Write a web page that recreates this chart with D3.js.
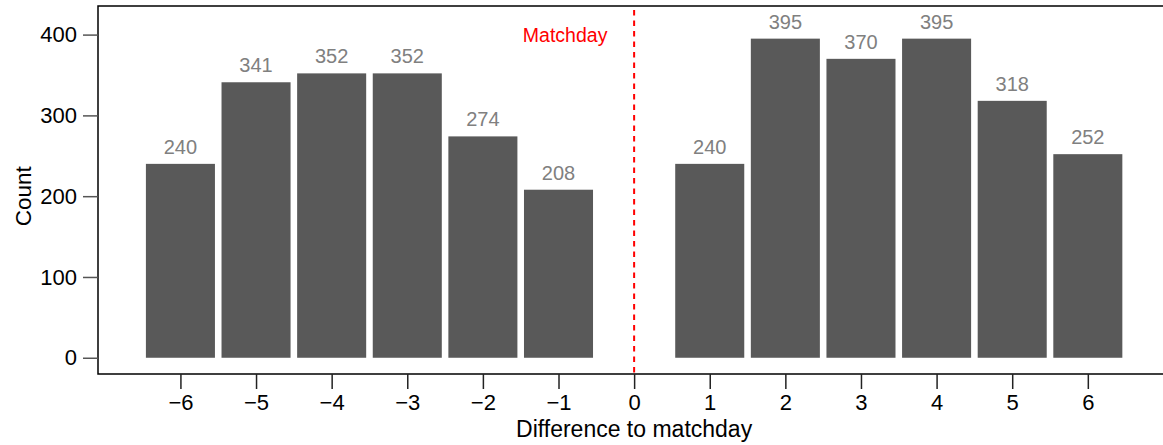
<!DOCTYPE html>
<html>
<head>
<meta charset="utf-8">
<script src="https://cdn.jsdelivr.net/npm/d3@7"></script>
<style>
  body { margin: 0; background: #fff; }
  svg { display: block; font-family: "Liberation Sans", Arial, sans-serif; }
</style>
</head>
<body>
<div id="chart"></div>
<script>
/* Counts by difference to matchday */

const days = [-6, -5, -4, -3, -2, -1, 1, 2, 3, 4, 5, 6];
const counts = [240, 341, 352, 352, 274, 208, 240, 395, 370, 395, 318, 252];
const xTicks = [-6, -5, -4, -3, -2, -1, 0, 1, 2, 3, 4, 5, 6];
const yTicks = [0, 100, 200, 300, 400];

const width = 1163,
      height = 445,
      margin = ({ top: 6, right: 0, bottom: 70, left: 98 });

let svg = d3.select("#chart")
    .append("svg")
    .attr("width", width)
    .attr("height", height);

//x scale - right edge runs off the picture
let x = d3.scaleLinear()
    .domain([-7.09, 7.1])
    .range([margin.left, margin.left + 1073]);

let y = d3.scaleLinear()
    .domain([-20.1, 435.4])
    .range([height - margin.bottom - 1, margin.top]);

const step = x(1) - x(0);
const barW = step * 0.913;

//frame lines (left, top, bottom)
svg.append("path")
    .attr("d", `M${width + 10},${y(435.4)}H${x(-7.09)}V${y(-20.1)}H${width + 10}`)
    .attr("fill", "none")
    .attr("stroke", "#000")
    .attr("stroke-width", 1.5);

//y axis
let yAxis = svg.append("g")
    .attr("transform", `translate(${x(-7.09)},0)`)
    .call(d3.axisLeft(y).tickValues(yTicks).tickSize(15).tickPadding(6));
yAxis.select(".domain").remove();
yAxis.selectAll("line").attr("stroke", "#555").attr("stroke-width", 1.5);
yAxis.selectAll("text").attr("font-size", 22).attr("fill", "#000")
    .attr("font-family", "Liberation Sans, Arial, sans-serif");

//x axis
let xAxis = svg.append("g")
    .attr("transform", `translate(0,${y(-20.1)})`)
    .call(d3.axisBottom(x).tickValues(xTicks).tickSize(15).tickPadding(5)
        .tickFormat(d => d < 0 ? "\u2212" + Math.abs(d) : d));
xAxis.select(".domain").remove();
xAxis.selectAll("line").attr("stroke", "#222").attr("stroke-width", 1.5);
xAxis.selectAll("text").attr("font-size", 22).attr("fill", "#000")
    .attr("font-family", "Liberation Sans, Arial, sans-serif");

//bars
let data = days.map((d, i) => ({ day: d, num: counts[i] }));

let bar = svg.selectAll(".bar")
    .data(data)
    .join("g")
    .attr("class", "bar");

bar.append("rect")
    .attr("fill", "#595959")
    .attr("x", d => x(d.day) - barW / 2)
    .attr("width", barW)
    .attr("y", d => y(d.num))
    .attr("height", d => y(0) - y(d.num));

bar.append("text")
    .text(d => d.num)
    .attr("x", d => x(d.day))
    .attr("y", d => y(d.num) - 10)
    .attr("text-anchor", "middle")
    .attr("font-size", 20)
    .attr("fill", "#808080");

//matchday line
svg.append("line")
    .attr("x1", x(0)).attr("x2", x(0))
    .attr("y1", margin.top + 4)
    .attr("y2", y(-20.1))
    .attr("stroke", "#ff0000")
    .attr("stroke-width", 2)
    .attr("stroke-dasharray", "5.5,5");

svg.append("text")
    .text("Matchday")
    .attr("x", x(0) - 69)
    .attr("y", 42)
    .attr("text-anchor", "middle")
    .attr("font-size", 19.5)
    .attr("fill", "#ff0000");

//axis titles
svg.append("text")
    .text("Difference to matchday")
    .attr("x", x(0))
    .attr("y", 437)
    .attr("text-anchor", "middle")
    .attr("font-size", 23);

svg.append("text")
    .text("Count")
    .attr("transform", `translate(31,${y(200)}) rotate(-90)`)
    .attr("text-anchor", "middle")
    .attr("font-size", 22.5);
</script>
</body>
</html>
